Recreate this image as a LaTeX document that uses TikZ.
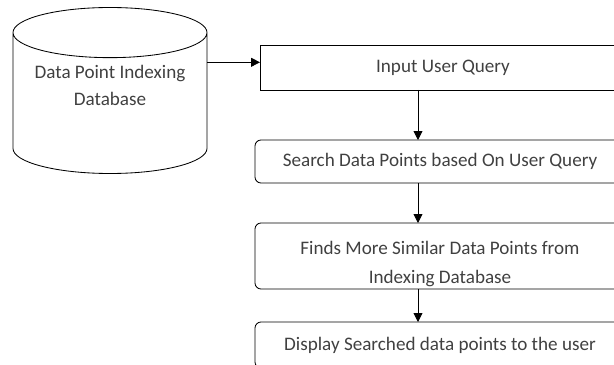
\documentclass[tikz,border=0pt]{standalone}
\usepackage{fontspec}
\setmainfont{Carlito}
\usetikzlibrary{shapes.geometric,arrows.meta}

\begin{document}
\begin{tikzpicture}[every node/.style	=	{text=black!75,font=\fontsize{13.6}{19}\selectfont},
					stepbox/.style		=	{draw=black,line width=.6pt,inner sep=0pt,outer sep=0pt,
											 minimum width=9.25cm,align=center},
					roundbox/.style		=	{stepbox,rounded corners=.15cm},
					dbshape/.style		=	{cylinder,shape border rotate=90,aspect=.33,draw=black,line width=.6pt,text width=3.8cm,
											 minimum width=4.85cm,minimum height=4.15cm,inner sep=0pt,outer sep=0pt},
					arr/.style			=	{-{Triangle[length=2.2mm,width=2.2mm]},line width=.6pt}]

	\useasboundingbox (0,0) rectangle (15.35,-9.125);
	\clip (0,0) rectangle (15.35,-9.125);

	\node[dbshape,anchor=shape center] (db) at (2.75,-2.2625) {};
	\node[align=center] (dbname) at (2.75,-2.14) {Data Point Indexing\\Database};

	\node[stepbox,minimum width=9.15cm,minimum height=1.125cm]	(query)	at (11.075,-1.6875)	{Input User Query};
	\node[roundbox,minimum height=1.075cm]	(search)	at (11.0,-4.0375)	{Search Data Points based On User Query};
	\node[roundbox,minimum height=1.65cm,font=\fontsize{13.6}{21}\selectfont]	(similar)	at (11.0,-6.4)
		{\raisebox{-.3cm}[0pt][0pt]{\begin{tabular}{@{}c@{}}Finds More Similar Data Points from\\Indexing Database\end{tabular}}};
	\node[roundbox,minimum height=1.15cm]	(show)		at (11.0,-8.625)	{Display Searched data points to the user};

	\coordinate (join) at ([yshift=.13cm]query.west);
	\draw[arr] (db.east |- join) -- (join);
	\draw[arr] (query.south -| 10.45,0) -- (search.north -| 10.45,0);
	\draw[arr] (search.south -| 10.45,0) -- (similar.north -| 10.45,0);
	\draw[arr] (similar.south -| 10.45,0) -- (show.north -| 10.45,0);
\end{tikzpicture}
\end{document}
